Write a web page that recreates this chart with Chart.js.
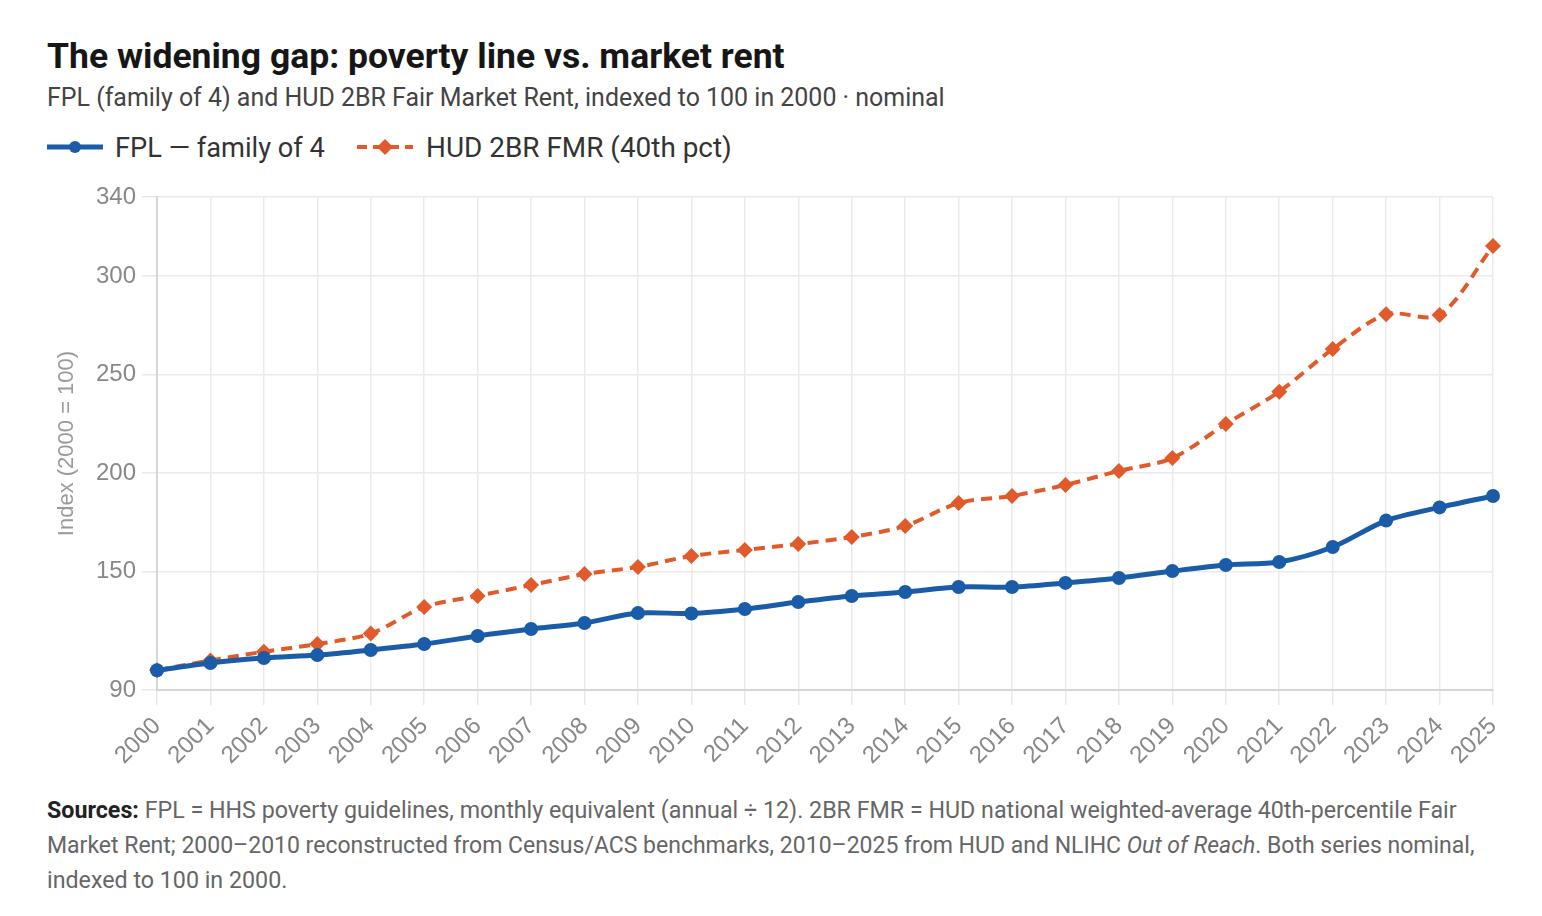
<!DOCTYPE html>
<html>
<head>
<meta charset="utf-8">
<script src="https://cdn.jsdelivr.net/npm/chart.js@4.4.1/dist/chart.umd.min.js"></script>
<style>
html,body{margin:0;padding:0;background:#ffffff;}
body{width:1542px;height:916px;position:relative;overflow:hidden;font-family:Roboto,"Noto Sans",sans-serif;}
.t{position:absolute;left:47px;white-space:nowrap;line-height:normal;}
#title{font-weight:700;color:#161616;}
#subtitle{color:#444;}
.leg{color:#333;}
.src{color:#666;}
.src b{color:#222;font-weight:700;}
#chartbox{position:absolute;left:0;top:170px;width:1542px;height:620px;}
svg.sample{position:absolute;}
</style>
</head>
<body>
<div id="title" class="t">The widening gap: poverty line vs. market rent</div>
<div id="subtitle" class="t">FPL (family of 4) and HUD 2BR Fair Market Rent, indexed to 100 in 2000 · nominal</div>

<svg class="sample" style="left:44px;top:137px" width="64" height="20">
  <line x1="3" y1="10" x2="59" y2="10" stroke="#1a5ca8" stroke-width="5"/>
  <circle cx="31" cy="10" r="6" fill="#1a5ca8"/>
</svg>
<div id="leg1" class="t leg" style="left:115px">FPL — family of 4</div>
<svg class="sample" style="left:354px;top:135px" width="64" height="24">
  <line x1="3" y1="12" x2="59" y2="12" stroke="#e05a2b" stroke-width="4" stroke-dasharray="10 6"/>
  <polygon points="31,4 39,12 31,20 23,12" fill="#e05a2b"/>
</svg>
<div id="leg2" class="t leg" style="left:426px">HUD 2BR FMR (40th pct)</div>

<div id="chartbox"><canvas id="c" width="1542" height="620"></canvas></div>

<div id="src1" class="t src"><b>Sources:</b> FPL = HHS poverty guidelines, monthly equivalent (annual ÷ 12). 2BR FMR = HUD national weighted-average 40th-percentile Fair</div>
<div id="src2" class="t src">Market Rent; 2000–2010 reconstructed from Census/ACS benchmarks, 2010–2025 from HUD and NLIHC <i>Out of Reach</i>. Both series nominal,</div>
<div id="src3" class="t src">indexed to 100 in 2000.</div>

<script>
// ---- data ----
const years = ['2000','2001','2002','2003','2004','2005','2006','2007','2008','2009','2010','2011','2012',
               '2013','2014','2015','2016','2017','2018','2019','2020','2021','2022','2023','2024','2025'];
const fplIndex = [100, 103.7, 106.2, 107.7, 110.3, 113.3, 117.4, 120.9, 124.0, 129.0, 128.8, 131.1, 134.6,
                  137.7, 139.7, 142.2, 142.2, 144.3, 146.8, 150.3, 153.4, 154.9, 162.5, 175.9, 182.6, 188.4];
const fmrIndex = [100, 105.0, 109.4, 113.3, 118.6, 132.1, 137.7, 143.2, 148.8, 152.4, 158.0, 161.0, 164.0,
                  167.6, 173.2, 184.8, 188.4, 194.0, 201.1, 207.6, 224.9, 241.3, 262.9, 280.5, 280.2, 315.2];
const yTickValues = [90, 150, 200, 250, 300, 340];
const seriesNames = ['FPL — family of 4', 'HUD 2BR FMR (40th pct)'];

const BLUE = '#1a5ca8';
const ORANGE = '#e05a2b';

// ---- text fitting helpers ----
const mctx = document.createElement('canvas').getContext('2d');
function fontFor(el, size){
  const cs = getComputedStyle(el);
  return `${cs.fontStyle} ${cs.fontWeight} ${size}px ${cs.fontFamily}`;
}
function fitWidth(el, target){
  el.style.fontSize = '100px';
  const w = el.getBoundingClientRect().width;
  const size = 100 * target / w;
  el.style.fontSize = size + 'px';
  return size;
}
function placeBaseline(el, baseline){
  const size = parseFloat(el.style.fontSize);
  mctx.font = fontFor(el, size);
  const m = mctx.measureText('Hg');
  const asc = m.fontBoundingBoxAscent, desc = m.fontBoundingBoxDescent;
  const h = el.getBoundingClientRect().height;
  el.style.top = (baseline - (asc + (h - asc - desc) / 2)) + 'px';
}

function layoutText(){
  const T = document.getElementById('title');
  fitWidth(T, 738); placeBaseline(T, 68);
  const S = document.getElementById('subtitle');
  fitWidth(S, 898); placeBaseline(S, 106);
  const L1 = document.getElementById('leg1');
  fitWidth(L1, 210);
  const L2 = document.getElementById('leg2');
  fitWidth(L2, 306);
  placeBaseline(L1, 157); placeBaseline(L2, 157);
  const r1 = document.getElementById('src1');
  const r2 = document.getElementById('src2');
  const r3 = document.getElementById('src3');
  const ss = fitWidth(r1, 1410);
  fitWidth(r2, 1428);
  r3.style.fontSize = ss + 'px';
  placeBaseline(r1, 818); placeBaseline(r2, 853); placeBaseline(r3, 888);
}

function drawChart(){
  const tickFont = '"Liberation Sans", Arial, sans-serif';
  new Chart(document.getElementById('c'), {
    type: 'line',
    data: {
      labels: years,
      datasets: [
        {
          label: seriesNames[0], data: fplIndex,
          borderColor: BLUE, backgroundColor: BLUE, borderWidth: 5,
          pointStyle: 'circle', pointRadius: 7, pointBorderWidth: 0,
          pointBackgroundColor: BLUE, tension: 0.3, order: 1
        },
        {
          label: seriesNames[1], data: fmrIndex,
          borderColor: ORANGE, backgroundColor: ORANGE, borderWidth: 4,
          borderDash: [11, 7],
          pointStyle: 'rectRot', pointRadius: 8, pointBorderWidth: 0,
          pointBackgroundColor: ORANGE, tension: 0.3, order: 2
        }
      ]
    },
    options: {
      responsive: false, animation: false,
      layout: { padding: { left: 47, right: 49, top: 27, bottom: 0 } },
      plugins: { legend: { display: false }, tooltip: { enabled: false }, title: { display: false } },
      scales: {
        x: {
          offset: false,
          grid: { color: '#ebebeb', lineWidth: 1.5, tickLength: 15, tickColor: '#e8e8e8' },
          border: { color: '#d6d6d6', width: 2 },
          ticks: { color: '#888', font: { family: tickFont, size: 24 },
                   maxRotation: 45, minRotation: 45, padding: 7, autoSkip: false },
          afterFit(s){ s.height = 100; }
        },
        y: {
          min: 90, max: 340,
          afterBuildTicks(s){ s.ticks = yTickValues.map(v => ({ value: v })); },
          grid: { color: '#ebebeb', lineWidth: 1.5, tickLength: 15, tickColor: '#e8e8e8' },
          border: { color: '#d6d6d6', width: 2 },
          ticks: { color: '#888', font: { family: tickFont, size: 24 }, padding: 6 },
          title: { display: true, text: 'Index (2000 = 100)', color: '#9a9a9a',
                   font: { family: tickFont, size: 22 }, padding: { top: 7, bottom: 0 } },
          afterFit(s){ s.width = 110; }
        }
      }
    }
  });
}

(document.fonts && document.fonts.ready ? document.fonts.ready : Promise.resolve()).then(() => {
  layoutText();
  drawChart();
});
</script>
</body>
</html>
